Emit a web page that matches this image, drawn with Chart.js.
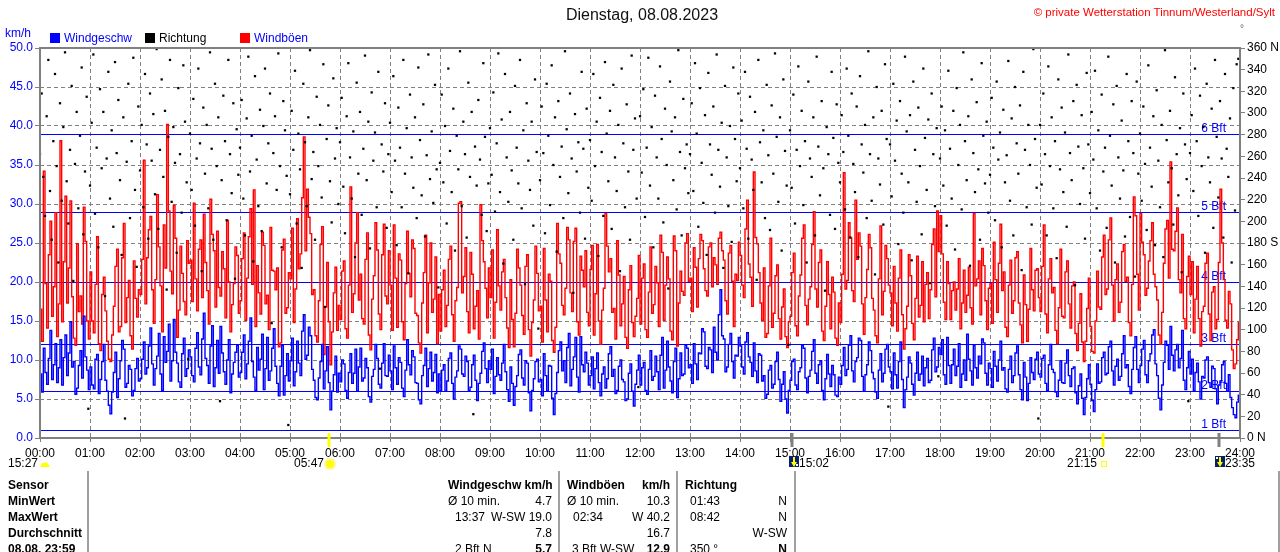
<!DOCTYPE html>
<html><head><meta charset="utf-8">
<script src="https://cdn.jsdelivr.net/npm/chart.js@4.4.0/dist/chart.umd.min.js"></script>
<style>
html,body{margin:0;padding:0;background:#fff;}
#wrap{position:relative;width:1280px;height:552px;overflow:hidden;font-family:"Liberation Sans",Arial,sans-serif;}
#c{position:absolute;left:0;top:0;}
.t{position:absolute;white-space:nowrap;font-size:12px;line-height:14px;color:#000;}
.b{font-weight:bold;}
.sq{position:absolute;width:10px;height:10px;}
.sep{position:absolute;width:2px;background:#a0a0a0;top:471px;height:81px;}
</style></head>
<body><div id="wrap">
<canvas id="c" width="1280" height="552"></canvas>
<div class="t" style="left:0;width:1284px;text-align:center;top:6px;font-size:16px;line-height:18px;color:#111;">Dienstag, 08.08.2023</div>
<div class="t" style="right:5px;top:5px;font-size:11.5px;color:#ff0000;">© private Wetterstation Tinnum/Westerland/Sylt</div>
<div class="t" style="left:1240px;top:22px;font-size:10px;color:#666;">°</div>
<div class="t" style="left:5px;top:26px;color:#0000ff;">km/h</div>
<div class="sq" style="left:50px;top:33px;background:#0000ff;"></div>
<div class="t" style="left:64px;top:31px;color:#0000ff;">Windgeschw</div>
<div class="sq" style="left:145px;top:33px;background:#000;"></div>
<div class="t" style="left:159px;top:31px;">Richtung</div>
<div class="sq" style="left:240px;top:33px;background:#ff0000;"></div>
<div class="t" style="left:254px;top:31px;color:#0000ff;">Windböen</div>

<div class="sep" style="left:87px;"></div>
<div class="sep" style="left:558px;"></div>
<div class="sep" style="left:676px;"></div>
<div class="sep" style="left:794px;"></div>
<div class="sep" style="left:1278px;"></div>

<div class="t b" style="left:8px;top:478px;">Sensor</div>
<div class="t b" style="left:8px;top:494px;">MinWert</div>
<div class="t b" style="left:8px;top:510px;">MaxWert</div>
<div class="t b" style="left:8px;top:526px;">Durchschnitt</div>
<div class="t b" style="left:8px;top:542px;">08.08. 23:59</div>

<div class="t b" style="left:448px;top:478px;">Windgeschw km/h</div>
<div class="t" style="left:448px;top:494px;">Ø 10 min.</div>
<div class="t" style="right:728px;top:494px;">4.7</div>
<div class="t" style="left:455px;top:510px;">13:37</div>
<div class="t" style="right:728px;top:510px;">W-SW 19.0</div>
<div class="t" style="right:728px;top:526px;">7.8</div>
<div class="t" style="left:455px;top:542px;">2 Bft N</div>
<div class="t b" style="right:728px;top:542px;">5.7</div>

<div class="t b" style="left:567px;top:478px;">Windböen</div>
<div class="t b" style="right:610px;top:478px;">km/h</div>
<div class="t" style="left:567px;top:494px;">Ø 10 min.</div>
<div class="t" style="right:610px;top:494px;">10.3</div>
<div class="t" style="left:573px;top:510px;">02:34</div>
<div class="t" style="right:610px;top:510px;">W 40.2</div>
<div class="t" style="right:610px;top:526px;">16.7</div>
<div class="t" style="left:572px;top:542px;">3 Bft W-SW</div>
<div class="t b" style="right:610px;top:542px;">12.9</div>

<div class="t b" style="left:685px;top:478px;">Richtung</div>
<div class="t" style="left:690px;top:494px;">01:43</div>
<div class="t" style="right:493px;top:494px;">N</div>
<div class="t" style="left:690px;top:510px;">08:42</div>
<div class="t" style="right:493px;top:510px;">N</div>
<div class="t" style="right:493px;top:526px;">W-SW</div>
<div class="t" style="left:690px;top:542px;">350 °</div>
<div class="t b" style="right:493px;top:542px;">N</div>
</div>
<script>
// wind speed km/h, every 2 minutes from 00:00 to 24:00 (one row per hour)
const windSpeed = [
8.2,5.9,11.5,8.4,6.9,10.2,13.8,7.5,9.4,12.1,7.1,9.0,12.6,6.8,10.3,13.2,8.0,10.9,14.9,9.1,9.8,5.6,6.4,9.3,11.2,7.7,15.6,10.4,8.7,6.2,
9.1,6.8,6.3,10.1,10.7,5.7,7.5,9.8,12.0,7.4,6.0,4.2,3.1,5.9,8.4,11.0,5.2,7.6,9.9,12.5,11.4,6.5,7.0,9.3,8.8,5.4,6.1,8.9,10.2,7.3,
7.6,10.1,12.3,8.2,9.0,11.8,14.1,9.5,6.8,8.9,10.5,13.4,8.2,6.1,13.0,9.7,11.1,14.6,7.3,9.9,15.2,11.0,9.6,7.2,6.5,10.8,12.8,7.9,8.9,11.3,
10.4,8.0,7.2,11.5,13.5,9.1,8.1,12.7,16.0,10.2,9.3,7.0,11.8,14.4,6.6,9.0,12.5,8.3,14.3,10.9,8.5,6.9,10.0,12.6,5.8,8.2,9.7,11.0,11.9,7.8,
8.4,11.0,13.2,7.6,9.5,12.4,15.4,9.8,7.8,6.1,11.6,8.7,10.1,13.3,6.2,8.9,12.9,7.4,8.6,11.5,14.0,9.2,7.0,5.4,9.2,11.9,5.5,8.0,10.8,7.3,
9.9,12.8,6.7,8.5,12.4,9.6,8.0,13.7,15.8,10.1,10.6,14.2,13.1,8.8,7.4,5.2,4.9,7.7,9.8,12.0,6.3,8.6,11.7,7.1,3.6,6.0,8.1,10.5,5.9,8.3,
7.2,10.0,9.5,6.1,5.1,8.4,10.8,7.0,8.3,11.4,6.0,9.1,11.5,7.3,7.7,10.2,9.0,5.3,4.6,7.9,8.8,12.0,10.2,6.9,6.4,9.6,12.1,8.0,7.9,10.6,
8.6,6.2,11.8,9.0,6.9,10.3,9.7,6.4,5.3,8.7,12.6,9.4,8.1,11.2,10.4,7.1,7.0,4.9,4.4,8.0,9.3,11.5,6.6,8.9,11.0,7.3,8.4,10.7,5.8,8.2,
6.1,8.7,9.4,6.0,7.3,10.2,10.9,7.0,5.0,7.8,8.6,11.8,11.4,8.2,7.9,10.5,9.8,6.1,6.5,9.4,10.6,7.4,4.8,7.0,8.3,11.1,12.2,8.9,7.1,9.9,
8.8,11.4,5.7,7.9,10.3,8.1,7.4,9.6,12.0,8.5,6.2,4.7,9.1,7.0,4.2,6.6,8.0,10.7,11.3,7.7,6.8,9.9,9.6,5.8,3.5,6.1,7.6,9.8,10.1,7.2,
7.5,5.4,10.8,8.0,6.0,9.3,9.2,5.1,3.0,5.7,8.4,11.2,12.3,8.6,9.9,7.1,11.6,13.4,6.7,8.8,10.4,12.9,7.8,5.9,13.0,9.4,8.5,11.0,9.6,6.8,
8.0,10.4,6.3,8.9,10.9,7.1,5.4,8.2,9.1,6.4,7.6,10.8,11.7,7.9,8.8,5.7,6.1,9.2,10.0,7.5,7.2,4.8,5.0,8.3,9.5,6.0,4.1,6.9,8.7,10.6,
6.8,9.0,9.7,6.1,5.6,8.8,11.2,7.4,7.9,10.5,8.5,6.2,10.6,12.9,6.4,8.7,12.4,9.1,7.3,5.8,9.8,11.5,5.2,7.6,10.9,8.0,8.2,11.9,11.5,9.0,
9.4,7.0,12.1,9.5,7.5,10.9,10.8,14.0,13.6,9.2,8.9,11.6,11.3,8.4,14.2,11.0,10.0,15.8,19.0,13.1,12.7,8.5,9.1,12.0,13.4,9.8,7.7,10.6,10.5,12.9,
11.8,9.1,8.2,12.3,13.5,10.4,9.7,7.9,12.2,8.6,7.1,10.8,10.6,7.3,8.0,5.1,5.6,8.7,9.3,6.4,6.9,9.8,11.0,7.5,4.7,6.9,8.5,5.0,3.2,6.1,
7.4,9.8,10.1,6.8,6.2,8.5,9.0,11.9,11.5,7.7,5.8,7.9,8.7,11.1,12.6,8.3,7.0,9.4,9.9,6.1,4.9,7.6,10.7,8.2,6.6,9.3,8.1,5.5,5.3,7.8,
6.9,9.3,11.6,8.0,8.8,11.9,13.1,8.6,7.2,9.8,10.3,12.8,12.5,7.9,6.0,8.1,9.4,12.3,11.2,8.4,7.6,5.9,5.1,8.7,10.8,7.2,8.3,11.4,12.0,9.1,
8.5,6.3,10.9,8.1,6.4,9.8,12.3,7.5,3.9,6.2,7.8,10.4,9.6,6.9,5.5,8.3,11.0,7.4,8.2,10.5,6.7,9.0,10.2,7.1,7.4,11.3,12.8,8.5,9.1,11.6,
10.7,12.6,8.1,6.9,12.9,9.3,7.0,9.4,11.4,8.0,9.2,12.1,6.5,8.2,10.0,7.4,13.3,10.1,8.6,6.8,11.9,9.0,7.7,10.5,9.5,12.7,12.2,8.3,6.8,9.6,
8.9,6.5,11.1,9.2,7.3,10.0,12.4,8.7,9.0,6.3,5.9,8.8,10.5,7.1,8.0,10.9,11.8,8.1,6.2,4.9,9.7,7.8,4.8,7.0,10.3,8.4,7.5,10.1,11.0,8.2,
7.8,10.2,10.6,7.0,6.1,9.4,12.0,8.8,8.4,5.9,5.3,7.4,9.9,7.1,7.0,9.6,11.3,8.0,6.6,8.9,9.1,5.8,4.4,6.7,8.2,5.1,3.0,5.2,7.6,9.4,
6.9,4.8,3.4,6.2,9.5,7.0,7.2,10.3,11.0,8.1,8.3,11.7,12.4,8.6,6.8,9.2,10.1,7.4,7.9,10.8,13.1,9.0,9.4,6.6,5.7,8.8,11.6,13.0,8.8,7.1,
9.3,11.4,12.5,8.1,7.1,9.9,10.8,13.2,13.9,9.5,8.0,5.1,3.6,6.8,9.7,12.4,11.9,8.8,14.3,10.6,8.6,11.3,12.0,9.0,10.2,13.8,7.4,6.2,9.0,11.1,
8.2,10.1,6.1,8.4,9.6,7.2,5.0,7.9,7.7,10.0,10.4,7.1,6.5,9.2,8.9,6.3,4.4,6.8,7.3,9.4,9.8,7.0,6.0,8.1,5.2,3.9,3.0,2.6,4.6,5.5,
5.7];
// wind gusts km/h, same times
const windGust = [
16.5,12.4,34.2,19.8,14.1,23.5,27.8,15.6,19.4,28.9,13.0,17.2,38.1,14.9,22.6,31.0,17.3,21.8,30.4,18.1,12.8,11.9,24.9,16.2,18.2,14.6,29.6,25.2,15.0,12.7,
21.3,15.0,13.5,19.7,25.8,12.1,11.2,18.4,20.6,16.3,12.4,10.1,9.8,13.2,16.9,22.0,24.2,13.6,14.3,23.1,27.5,14.8,18.0,20.2,13.1,11.4,22.7,17.9,15.5,19.0,
18.4,22.9,35.6,17.2,23.1,26.7,28.4,19.0,14.7,20.3,31.2,24.5,19.5,13.6,27.3,21.8,40.2,29.1,21.4,18.5,29.8,25.6,12.9,16.4,24.6,21.1,17.5,15.8,25.3,22.4,
22.8,17.5,30.1,20.4,16.3,24.2,25.4,18.0,28.7,22.5,18.9,14.6,30.6,26.1,24.0,16.8,26.5,19.3,18.2,23.9,21.7,15.4,27.9,20.0,13.6,17.1,19.8,24.5,23.4,16.0,
17.6,23.0,26.3,15.1,20.5,25.8,29.4,19.7,31.8,14.3,22.1,18.6,15.9,26.4,24.7,17.2,18.3,13.9,27.0,21.5,21.4,19.0,21.8,11.7,12.2,24.1,25.5,16.0,16.7,21.2,
20.4,26.9,14.8,19.1,28.1,21.7,23.6,30.8,38.6,24.0,31.9,28.3,26.2,18.4,19.0,13.1,12.3,17.6,24.8,27.1,10.7,16.8,22.5,14.9,9.4,13.6,18.6,21.9,13.8,17.0,
15.2,21.4,22.7,14.0,12.8,19.6,32.2,16.1,18.5,25.0,28.9,17.7,21.0,15.3,14.6,22.9,26.3,13.2,11.3,17.8,20.8,27.6,24.1,15.9,13.9,23.5,27.4,18.2,17.2,24.0,
19.6,13.8,27.3,20.5,14.2,23.6,22.8,14.9,12.6,19.8,26.5,21.1,18.1,25.4,24.3,16.0,15.7,12.2,10.9,17.3,21.2,26.0,13.5,19.9,25.0,16.1,17.8,23.2,12.1,18.4,
13.7,19.0,21.5,14.3,17.0,22.9,24.6,15.8,12.4,17.6,19.3,30.1,30.3,18.6,20.7,24.4,16.2,13.5,23.8,21.0,14.0,16.9,18.9,12.7,29.9,25.3,22.6,19.2,15.4,21.8,
18.0,24.1,12.8,17.4,26.7,19.5,16.4,21.3,22.9,18.0,14.1,11.6,20.3,15.2,11.7,16.0,24.2,21.8,19.6,15.7,13.3,22.0,23.5,13.9,10.5,14.8,17.7,24.6,21.1,16.3,
16.9,12.3,24.3,17.7,13.6,21.0,20.1,12.5,11.0,14.2,27.5,23.6,22.4,17.0,15.8,19.2,27.0,25.4,18.6,16.2,25.2,26.9,14.9,13.2,23.3,21.5,19.4,24.0,16.1,14.4,
21.6,24.7,13.2,18.5,24.8,15.0,12.0,16.4,19.2,28.8,24.6,21.3,23.0,16.1,16.6,12.7,25.3,20.9,14.4,17.2,20.7,12.9,11.5,19.0,22.1,14.8,13.0,15.6,17.9,23.4,
14.6,20.5,22.3,13.9,12.9,18.7,24.5,16.0,17.1,22.0,19.9,14.3,26.0,23.8,15.1,19.6,23.2,20.4,13.7,12.6,25.9,24.0,11.8,17.3,21.4,18.8,18.3,25.0,26.2,20.1,
20.5,16.2,24.4,21.9,16.8,23.0,26.1,25.3,21.7,18.9,18.2,24.5,25.0,19.4,23.1,22.2,19.7,25.6,26.4,24.0,22.8,17.6,15.9,23.7,24.7,20.1,14.3,21.0,20.2,25.1,
23.4,19.6,18.0,26.8,30.5,22.3,20.6,16.9,34.1,25.7,24.9,21.2,17.3,15.1,21.8,12.9,13.4,19.5,25.6,14.2,16.0,20.8,22.2,15.3,12.7,16.8,19.1,13.0,11.6,14.9,
15.6,21.2,23.7,14.4,13.1,18.2,20.9,25.6,27.3,17.0,14.5,17.8,19.4,24.8,29.0,19.1,16.8,22.5,24.1,13.7,12.5,16.9,22.6,18.4,14.0,20.6,18.7,12.8,11.9,17.3,
14.8,21.0,34.0,19.1,20.2,27.6,25.7,18.9,17.5,30.5,22.9,26.3,24.6,17.2,13.3,18.0,21.6,26.1,24.4,17.9,16.4,13.1,12.2,20.4,27.2,15.8,18.8,24.7,23.0,19.6,
18.6,14.4,22.0,17.3,13.7,20.5,24.1,15.8,11.4,14.0,16.9,23.5,20.8,14.7,12.6,17.9,23.3,15.5,17.0,22.6,14.9,19.7,21.2,15.3,19.0,24.8,26.8,18.1,29.1,23.9,
28.5,23.6,17.4,15.2,22.6,19.8,15.2,18.9,20.0,16.4,19.1,23.0,14.0,17.3,21.5,16.1,18.3,21.9,16.7,14.6,28.8,19.5,20.4,22.7,15.8,24.3,22.1,17.6,13.9,19.2,
19.8,14.7,25.1,20.3,16.1,22.4,27.4,18.9,21.3,14.2,13.0,19.6,22.8,16.0,17.6,23.1,23.9,17.3,14.5,12.2,20.9,17.1,12.4,16.5,24.3,19.0,16.3,21.5,21.7,18.0,
16.2,22.0,27.3,15.9,13.5,20.4,23.0,18.6,19.3,13.8,12.1,16.7,24.2,15.6,15.4,21.3,22.7,17.2,14.1,19.5,20.0,13.4,11.2,14.7,18.5,12.3,9.8,12.4,16.6,20.5,
14.3,11.1,10.9,15.0,21.4,16.8,16.5,23.2,26.0,18.4,19.1,25.4,28.2,19.6,15.0,20.3,22.3,16.1,17.4,23.9,24.8,20.1,20.6,14.8,13.1,19.7,30.9,28.5,21.0,16.4,
28.8,25.1,23.5,18.3,19.2,22.7,25.3,27.6,21.0,19.4,17.7,13.2,12.0,16.1,22.4,26.8,27.9,20.5,35.4,24.2,24.0,26.5,29.5,20.3,18.6,26.1,15.3,14.0,20.7,23.3,
18.4,22.6,13.5,17.8,22.0,15.3,11.8,16.2,16.9,22.4,23.7,15.9,12.5,18.7,19.4,14.0,15.2,22.5,31.9,25.0,20.3,15.1,14.1,18.8,17.2,11.3,8.9,9.5,12.6,14.8,
12.9];
// wind direction in degrees, every 2 minutes
const windDir = [
262,318,241,205,297,349,228,183,274,336,251,162,309,219,287,356,237,198,266,325,145,253,301,212,279,342,188,246,315,27,
233,291,354,207,268,176,322,249,301,131,258,338,221,284,195,347,263,312,238,169,296,18,255,327,203,274,351,229,158,306,
247,289,213,336,271,184,318,256,299,225,359,193,266,331,241,302,137,278,349,218,287,254,171,323,262,208,344,292,236,73,
281,229,313,196,258,341,272,154,305,244,289,212,356,267,183,327,251,296,34,238,316,274,201,349,262,226,309,147,285,243,
268,312,221,187,295,352,246,279,163,334,257,214,303,191,288,341,235,272,318,106,263,297,229,355,251,176,311,284,242,12,
225,302,266,339,198,281,248,157,327,273,214,296,358,239,264,183,315,251,289,222,345,121,276,307,237,199,332,258,286,216,
273,314,232,189,297,346,259,221,283,167,328,244,301,206,267,353,238,292,175,319,256,282,213,338,64,271,246,309,194,262,
291,227,334,256,178,305,268,213,349,244,286,152,317,259,231,296,203,342,275,224,308,186,261,354,239,283,217,326,248,139,
254,317,236,288,198,341,265,227,304,173,279,248,357,214,292,262,185,328,241,301,22,269,233,312,257,206,346,278,191,235,
286,243,319,209,272,355,227,294,161,336,259,218,301,247,183,325,268,235,349,212,284,142,309,256,229,292,196,331,264,101,
238,306,263,189,327,279,215,344,252,296,172,311,241,269,203,357,285,226,318,258,134,299,246,273,208,338,267,184,304,231,
275,219,336,251,292,168,314,264,205,347,281,237,302,193,326,259,228,289,154,341,272,213,308,246,183,353,266,295,221,47,
297,245,322,204,268,351,233,287,176,316,259,221,343,276,199,304,252,138,329,283,238,296,211,358,264,187,313,249,271,226,
262,309,228,346,281,195,323,254,217,298,169,337,271,243,306,208,354,266,232,291,157,325,259,214,288,181,342,276,237,318,
249,293,212,338,267,184,315,257,229,301,146,349,273,236,284,203,326,261,192,307,244,355,278,218,296,173,331,265,233,86,
284,231,317,198,266,343,251,302,215,274,162,329,258,241,296,187,352,269,224,311,249,136,287,262,206,338,277,193,308,254,
236,298,264,211,341,279,185,318,253,227,306,167,334,271,245,289,203,357,262,219,296,151,324,258,234,302,197,345,276,29,
271,223,327,256,293,179,311,244,208,352,283,236,298,164,329,266,218,305,251,188,341,277,229,294,143,318,262,214,286,57,
258,306,233,284,196,339,267,221,302,174,323,252,289,211,356,274,238,297,159,331,263,227,310,248,183,346,279,235,292,208,
243,314,268,201,329,257,282,176,303,236,261,348,219,295,187,324,272,244,307,155,338,266,213,289,252,197,359,276,231,18,
289,234,318,262,187,343,251,296,212,274,166,331,248,305,227,282,195,354,263,238,311,141,326,269,216,298,249,184,337,271,
226,301,257,339,212,284,173,317,246,268,194,352,279,233,308,162,325,259,221,293,247,186,336,274,204,311,263,149,329,244,
281,219,306,253,192,344,268,232,297,178,321,256,213,289,167,358,275,236,302,249,197,333,262,224,286,153,318,271,239,34,
263,298,228,341,274,205,316,251,287,171,327,259,236,304,194,349,278,222,311,258,185,336,267,241,295,162,323,210,345,350];

const bftLevels = [1, 6, 12, 20, 29, 39];
const bftNames = ['1 Bft', '2 Bft', '3 Bft', '4 Bft', '5 Bft', '6 Bft'];
const sunEvents = ['05:47', '21:15'];
const moonEvents = ['15:02', '23:35'];
const startLabel = '15:27';
const dayMinutes = 1440;

const toMin = s => parseInt(s.slice(0, 2), 10) * 60 + parseInt(s.slice(3), 10);
const series = arr => arr.map((v, i) => ({x: i * dayMinutes / (arr.length - 1), y: v}));
const dirSeries = arr => arr.map((v, i) => ({x: i * dayMinutes / arr.length, y: v}));
const FONT = '"Liberation Sans", Arial, sans-serif';

const decor = {
  id: 'decor',
  beforeDatasetsDraw(chart) {
    const {ctx, chartArea: a, scales: {y}} = chart;
    ctx.save();
    ctx.strokeStyle = '#0000ff'; ctx.lineWidth = 1;
    ctx.fillStyle = '#0000ff'; ctx.font = '12px ' + FONT;
    ctx.textAlign = 'right'; ctx.textBaseline = 'alphabetic';
    bftLevels.forEach((v, i) => {
      const py = Math.round(y.getPixelForValue(v)) + 0.5;
      ctx.beginPath(); ctx.moveTo(a.left, py); ctx.lineTo(a.right, py); ctx.stroke();
      ctx.fillText(bftNames[i], a.right - 14, py - 3);
    });
    ctx.restore();
  },
  afterDraw(chart) {
    const {ctx, chartArea: a, scales: {x}} = chart;
    ctx.save();
    ctx.strokeStyle = '#808080'; ctx.lineWidth = 2;
    ctx.strokeRect(a.left, a.top, a.right - a.left, a.bottom - a.top);
    ctx.lineWidth = 3;
    sunEvents.forEach(s => {
      const px = Math.round(x.getPixelForValue(toMin(s)));
      ctx.strokeStyle = '#ffff00';
      ctx.beginPath(); ctx.moveTo(px, a.bottom - 5); ctx.lineTo(px, a.bottom + 9); ctx.stroke();
    });
    moonEvents.forEach(s => {
      const px = Math.round(x.getPixelForValue(toMin(s)));
      ctx.strokeStyle = '#808080';
      ctx.beginPath(); ctx.moveTo(px, a.bottom - 5); ctx.lineTo(px, a.bottom + 9); ctx.stroke();
    });
    const ty = a.bottom + 26;
    ctx.font = '12px ' + FONT; ctx.fillStyle = '#000'; ctx.textBaseline = 'middle';
    ctx.textAlign = 'right';
    ctx.fillText(startLabel, a.left - 2, ty);
    ctx.fillStyle = '#ffff00';
    ctx.beginPath(); ctx.arc(a.left + 5, ty + 3, 4.5, Math.PI, 0); ctx.fill();
    const sr = Math.round(x.getPixelForValue(toMin(sunEvents[0])));
    ctx.fillStyle = '#000'; ctx.fillText(sunEvents[0], sr - 5, ty);
    ctx.fillStyle = '#fff7a0';
    ctx.beginPath(); ctx.arc(sr + 1, ty, 6, 0, Math.PI * 2); ctx.fill();
    ctx.fillStyle = '#ffff00';
    ctx.beginPath(); ctx.arc(sr + 1, ty, 4, 0, Math.PI * 2); ctx.fill();
    const ss = Math.round(x.getPixelForValue(toMin(sunEvents[1])));
    ctx.fillStyle = '#000'; ctx.fillText(sunEvents[1], ss - 6, ty);
    ctx.strokeStyle = '#ffff00'; ctx.lineWidth = 1;
    ctx.strokeRect(ss - 1.5, ty - 2.5, 5, 5);
    ctx.textAlign = 'left';
    moonEvents.forEach((s, i) => {
      const mx = Math.round(x.getPixelForValue(toMin(s)));
      const bx = i === 0 ? mx - 3 : mx - 4;
      ctx.fillStyle = '#0a1e6e';
      ctx.fillRect(bx, ty - 8, 10, 11);
      ctx.fillStyle = '#ffff00';
      ctx.beginPath(); ctx.moveTo(bx + 5, ty + 3); ctx.lineTo(bx + 2, ty - 2); ctx.lineTo(bx + 8, ty - 2); ctx.closePath(); ctx.fill();
      ctx.fillRect(bx + 4, ty - 7, 2, 5);
      ctx.fillStyle = '#ffffff';
      ctx.fillRect(bx + (i === 0 ? 7 : 1), ty + (i === 0 ? 0 : -7), 2, 2);
      ctx.fillStyle = '#000';
      ctx.fillText(s, bx + 10, ty);
    });
    ctx.restore();
  }
};

const hourLabel = v => String(Math.round(v / 60)).padStart(2, '0') + ':00';

new Chart(document.getElementById('c'), {
  type: 'line',
  data: {
    datasets: [
      {label: 'Richtung', data: dirSeries(windDir), yAxisID: 'y2', showLine: false,
       pointStyle: 'rect', pointRadius: 1.6, pointBackgroundColor: '#000', pointBorderWidth: 0, order: 0},
      {label: 'Windgeschw', data: series(windSpeed), yAxisID: 'y', borderColor: '#0000ff', borderWidth: 1.4,
       stepped: true, pointRadius: 0, order: 1},
      {label: 'Windböen', data: series(windGust), yAxisID: 'y', borderColor: '#ff0000', borderWidth: 1.4,
       stepped: true, pointRadius: 0, order: 2}
    ]
  },
  options: {
    responsive: false, animation: false, devicePixelRatio: 1, events: [],
    layout: {padding: {top: 48, bottom: 94, left: 0, right: 0}},
    plugins: {legend: {display: false}, tooltip: {enabled: false}},
    scales: {
      x: {
        type: 'linear', min: 0, max: dayMinutes,
        afterFit: s => { s.height = 20; },
        ticks: {stepSize: 60, autoSkip: false, maxRotation: 0, padding: 1, color: '#000',
                font: {family: FONT, size: 12}, callback: hourLabel},
        grid: {color: '#808080', tickLength: 7, tickColor: '#808080', tickBorderDash: [4, 3]},
        border: {display: false, dash: [4, 3]}
      },
      y: {
        position: 'left', min: 0, max: 50,
        afterFit: s => { s.width = 40; },
        ticks: {stepSize: 5, padding: 2, color: '#0000ff', font: {family: FONT, size: 12},
                callback: v => v.toFixed(1)},
        grid: {color: '#808080', tickLength: 5, tickColor: '#808080', tickBorderDash: []},
        border: {display: false, dash: [4, 3]}
      },
      y2: {
        position: 'right', min: 0, max: 360,
        afterFit: s => { s.width = 40; },
        ticks: {stepSize: 20, padding: 2, color: '#000', font: {family: FONT, size: 12},
                callback: v => (v === 0 || v === 360) ? v + ' N' : (v === 180 ? '180 S' : String(v))},
        grid: {drawOnChartArea: false, tickLength: 5, tickColor: '#808080'},
        border: {display: false}
      }
    }
  },
  plugins: [decor]
});
</script>
</body></html>
